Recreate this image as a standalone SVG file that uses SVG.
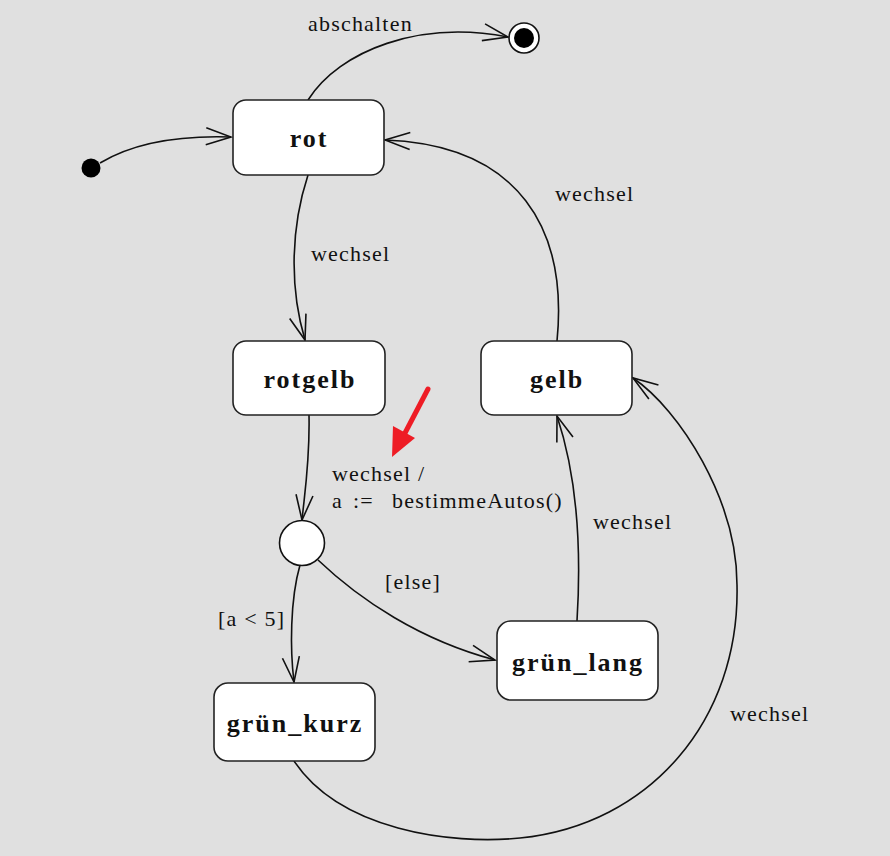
<svg xmlns="http://www.w3.org/2000/svg" width="890" height="856" viewBox="0 0 890 856">
<style>
.bg{fill:#e0e0e0}
.state{fill:#fff;stroke:#222;stroke-width:1.6}
.name{font-family:"Liberation Serif","Times New Roman",serif;font-weight:bold;font-size:26px;letter-spacing:2px;fill:#111;text-anchor:middle}
.lbl{font-family:"Liberation Serif","Times New Roman",serif;font-size:22px;letter-spacing:1.2px;fill:#111}
.edge{fill:none;stroke:#111;stroke-width:1.6;marker-end:url(#open)}
</style>
<defs>
<marker id="open" markerUnits="userSpaceOnUse" viewBox="-27 -11 29 22" markerWidth="29" markerHeight="22" refX="0" refY="0" orient="auto">
<path d="M-25,-8.5 L0,0 L-25,8.5" fill="none" stroke="#111" stroke-width="1.6"/>
</marker>
</defs>
<rect class="bg" x="0" y="0" width="890" height="856"/>

<g id="connectors">
<path class="edge" d="M100,163 C130,145 170,135 231,137"/>
<path class="edge" d="M308,100 C340,50 420,20 508,37"/>
<path class="edge" d="M308,175 C290,230 290,290 305,340"/>
<path class="edge" d="M557,341 C568,230 520,145 385,140"/>
<path class="edge" d="M309,415 C310,460 305,490 302,520"/>
<path class="edge" d="M300,565 C290,600 290,650 294,682"/>
<path class="edge" d="M318,560 C360,600 420,640 495,660"/>
<path class="edge" d="M577,621 C582,540 575,470 557,416"/>
<path class="edge" d="M294,761 C340,830 450,845 520,838 C650,825 740,720 737,585 C737,500 680,410 633,378"/>
</g>

<g id="labels">
<text class="lbl" x="308" y="31">abschalten</text>
<text class="lbl" x="311" y="261">wechsel</text>
<text class="lbl" x="555" y="201">wechsel</text>
<text class="lbl" x="332" y="481">wechsel /</text>
<text class="lbl" y="508"><tspan x="332">a</tspan><tspan x="353">:=</tspan><tspan x="392">bestimmeAutos()</tspan></text>
<text class="lbl" x="385" y="589">[else]</text>
<text class="lbl" x="218" y="626">[a &lt; 5]</text>
<text class="lbl" x="593" y="529">wechsel</text>
<text class="lbl" x="730" y="721">wechsel</text>
</g>

<g id="initial">
<circle cx="91" cy="168" r="9.5" fill="#000"/>
</g>
<g id="final">
<circle cx="524" cy="38" r="15" fill="#fff" stroke="#111" stroke-width="1.6"/>
<circle cx="524" cy="38" r="10" fill="#000"/>
</g>

<g id="rot">
<rect class="state" x="233" y="100" width="151" height="75" rx="13"/>
<text class="name" x="309" y="147">rot</text>
</g>
<g id="rotgelb">
<rect class="state" x="233" y="341" width="152" height="74" rx="13"/>
<text class="name" x="310" y="388">rotgelb</text>
</g>
<g id="gelb">
<rect class="state" x="481" y="341" width="151" height="74" rx="13"/>
<text class="name" x="557" y="388">gelb</text>
</g>
<g id="choice">
<circle cx="302" cy="543" r="22.5" fill="#fff" stroke="#111" stroke-width="1.6"/>
</g>
<g id="gruen_lang">
<rect class="state" x="497" y="621" width="161" height="79" rx="14"/>
<text class="name" x="578" y="671">grün_lang</text>
</g>
<g id="gruen_kurz">
<rect class="state" x="214" y="683" width="161" height="78" rx="14"/>
<text class="name" x="295" y="732">grün_kurz</text>
</g>

<g id="red-arrow">
<line x1="428" y1="389" x2="405" y2="433" stroke="#ee1c25" stroke-width="5" stroke-linecap="round"/>
<polygon points="392,457 393,426 415,438" fill="#ee1c25"/>
</g>
</svg>
